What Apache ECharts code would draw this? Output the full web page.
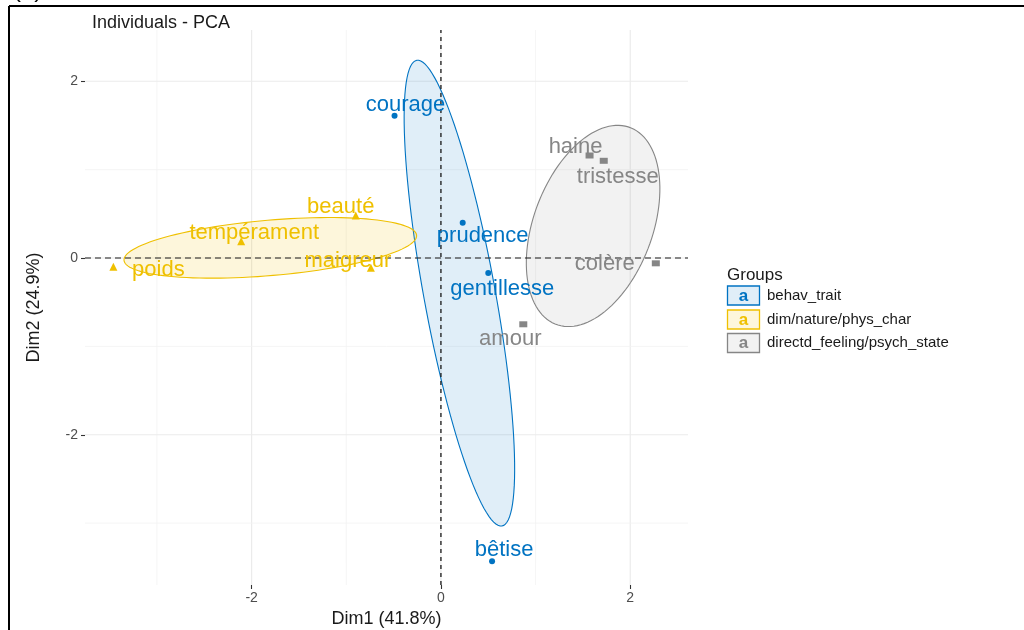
<!DOCTYPE html>
<html><head><meta charset="utf-8">
<script src="https://cdn.jsdelivr.net/npm/echarts@6/dist/echarts.min.js"></script>
<style>html,body{margin:0;padding:0;background:#fff}#c{width:1024px;height:630px}</style>
</head><body><div id="c"></div>
<script>
// ---- data ----
const groupNames = ['behav_trait', 'dim/nature/phys_char', 'directd_feeling/psych_state'];
const behavNames = ['courage', 'prudence', 'gentillesse', 'bêtise'];
const behavDim1 = [-0.49, 0.23, 0.50, 0.54];
const behavDim2 = [1.61, 0.40, -0.17, -3.43];
const physNames = ['beauté', 'tempérament', 'poids', 'maigreur'];
const physDim1 = [-0.90, -2.11, -3.46, -0.74];
const physDim2 = [0.48, 0.19, -0.10, -0.11];
const feelNames = ['haine', 'tristesse', 'colère', 'amour'];
const feelDim1 = [1.57, 1.72, 2.27, 0.87];
const feelDim2 = [1.16, 1.10, -0.06, -0.75];
const xTickLabels = [-2, 0, 2];
const yTickLabels = [-2, 0, 2];
const xGridValues = [-3, -2, -1, 0, 1, 2];
const yGridValues = [-3, -2, -1, 0, 1, 2];

// ---- layout / style ----
const X_MIN = -3.76, X_MAX = 2.61, Y_MIN = -3.7, Y_MAX = 2.58;
const FONT = 'Liberation Sans';
const colors = ['#0073C2', '#EFC000', '#868686'];
const fills = ['rgba(0,115,194,0.12)', 'rgba(239,192,0,0.14)', 'rgba(134,134,134,0.11)'];
const symbols = ['circle', 'triangle', 'rect'];
const symbolSizes = [6, 8, [8, 6]];
const labelOffsets = {
  'courage': [11, -11], 'prudence': [20, 13], 'gentillesse': [14, 16], 'bêtise': [12, -11],
  'beauté': [-15, -9], 'tempérament': [13, -8], 'poids': [45, 3], 'maigreur': [-23, -7],
  'haine': [-14, -9], 'tristesse': [14, 16], 'colère': [-51, 1], 'amour': [-13, 15]
};

const groups = [
  { names: behavNames, d1: behavDim1, d2: behavDim2 },
  { names: physNames, d1: physDim1, d2: physDim2 },
  { names: feelNames, d1: feelDim1, d2: feelDim2 }
];

// 95% confidence ellipse of the group mean (as in factoextra)
function confEllipse(xs, ys, nPts) {
  const n = xs.length;
  const mx = xs.reduce((a, b) => a + b, 0) / n;
  const my = ys.reduce((a, b) => a + b, 0) / n;
  let sxx = 0, syy = 0, sxy = 0;
  for (let i = 0; i < n; i++) {
    sxx += (xs[i] - mx) ** 2; syy += (ys[i] - my) ** 2; sxy += (xs[i] - mx) * (ys[i] - my);
  }
  sxx /= (n - 1); syy /= (n - 1); sxy /= (n - 1);
  const r = Math.sqrt(5.991464547107979 / n);
  const tr = sxx + syy, det = sxx * syy - sxy * sxy;
  const d = Math.sqrt(Math.max(tr * tr / 4 - det, 0));
  const l1 = tr / 2 + d, l2 = Math.max(tr / 2 - d, 0);
  const th = Math.atan2(l1 - sxx, sxy);
  const pts = [];
  for (let k = 0; k < nPts; k++) {
    const t = 2 * Math.PI * k / nPts;
    const u = Math.sqrt(l1) * r * Math.cos(t), v = Math.sqrt(l2) * r * Math.sin(t);
    pts.push([mx + u * Math.cos(th) - v * Math.sin(th), my + u * Math.sin(th) + v * Math.cos(th)]);
  }
  return { center: [mx, my], pts };
}

const series = [];
// grid lines
series.push({
  type: 'custom', silent: true, z: 0,
  data: xGridValues.map(v => [v, 0]),
  renderItem: (p, api) => {
    const v = api.value(0);
    const a = api.coord([v, Y_MIN]), b = api.coord([v, Y_MAX]);
    const major = v % 2 === 0;
    return { type: 'line', shape: { x1: a[0], y1: a[1], x2: b[0], y2: b[1] },
      style: { stroke: major ? '#EBEBEB' : '#F2F2F2', lineWidth: major ? 1.2 : 0.8 } };
  }
});
series.push({
  type: 'custom', silent: true, z: 0,
  data: yGridValues.map(v => [0, v]),
  renderItem: (p, api) => {
    const v = api.value(1);
    const a = api.coord([X_MIN, v]), b = api.coord([X_MAX, v]);
    const major = v % 2 === 0;
    return { type: 'line', shape: { x1: a[0], y1: a[1], x2: b[0], y2: b[1] },
      style: { stroke: major ? '#EBEBEB' : '#F2F2F2', lineWidth: major ? 1.2 : 0.8 } };
  }
});
// ellipses
groups.forEach((g, gi) => {
  const ell = confEllipse(g.d1, g.d2, 120);
  series.push({
    type: 'custom', silent: true, z: 1, name: groupNames[gi],
    data: [ell.center],
    renderItem: (p, api) => ({
      type: 'polygon',
      shape: { points: ell.pts.map(q => api.coord(q)) },
      style: { fill: fills[gi], stroke: colors[gi], lineWidth: 1.1 }
    })
  });
});
// zero reference lines
series.push({
  type: 'custom', silent: true, z: 2,
  data: [[0, 0]],
  renderItem: (p, api) => {
    const a = api.coord([0, Y_MIN]), b = api.coord([0, Y_MAX]);
    const c = api.coord([X_MIN, 0]), d = api.coord([X_MAX, 0]);
    return { type: 'group', children: [
      { type: 'line', shape: { x1: a[0], y1: a[1], x2: b[0], y2: b[1] },
        style: { stroke: '#1A1A1A', lineWidth: 1.3, lineDash: [4, 4] } },
      { type: 'line', shape: { x1: c[0], y1: c[1], x2: d[0], y2: d[1] },
        style: { stroke: '#1A1A1A', lineWidth: 1.2, lineDash: [6, 4] } }
    ] };
  }
});
// points + labels
groups.forEach((g, gi) => {
  series.push({
    type: 'scatter', name: groupNames[gi], z: 3,
    symbol: symbols[gi], symbolSize: symbolSizes[gi],
    itemStyle: { color: colors[gi], opacity: 1 },
    emphasis: { disabled: true },
    label: { show: true, position: 'inside', formatter: '{b}', color: colors[gi],
      fontSize: 22, fontFamily: FONT, textBorderWidth: 0, opacity: 1 },
    data: g.names.map((nm, i) => ({ name: nm, value: [g.d1[i], g.d2[i]],
      label: { offset: labelOffsets[nm] } }))
  });
});

// legend drawn as graphic
const legendEls = [
  { type: 'text', x: 727, y: 275, style: { text: 'Groups', fontSize: 17, fontFamily: FONT, fill: '#1A1A1A', verticalAlign: 'middle' } }
];
const keyY = [286, 310, 333.5];
groupNames.forEach((nm, i) => {
  legendEls.push({ type: 'rect', shape: { x: 727.5, y: keyY[i], width: 32, height: 19 },
    style: { fill: fills[i], stroke: colors[i], lineWidth: 1.3 } });
  legendEls.push({ type: 'text', x: 743.5, y: keyY[i] + 10, style: { text: 'a', fontSize: 17, fontWeight: 'bold',
    fontFamily: FONT, fill: colors[i], align: 'center', verticalAlign: 'middle' } });
  legendEls.push({ type: 'text', x: 767, y: keyY[i] + 9.5, style: { text: nm, fontSize: 15,
    fontFamily: FONT, fill: '#1A1A1A', verticalAlign: 'middle' } });
});

const chart = echarts.init(document.getElementById('c'));
chart.setOption({
  animation: false,
  backgroundColor: '#fff',
  title: { text: 'Individuals - PCA', left: 87, top: 9,
    textStyle: { fontSize: 18, fontWeight: 'normal', color: '#1A1A1A', fontFamily: FONT } },
  grid: { left: 85, right: 336, top: 30, bottom: 45, containLabel: false, outerBoundsMode: 'none' },
  xAxis: {
    type: 'value', min: X_MIN, max: X_MAX,
    splitLine: { show: false },
    axisLine: { show: false, onZero: false },
    axisTick: { show: true, length: 4, customValues: xTickLabels, lineStyle: { color: '#333', width: 1.1 } },
    axisLabel: { customValues: xTickLabels, color: '#4D4D4D', fontSize: 14, margin: 6, fontFamily: FONT },
    name: 'Dim1 (41.8%)', nameLocation: 'middle', nameGap: 23,
    nameTextStyle: { fontSize: 18, color: '#1A1A1A', fontFamily: FONT }
  },
  yAxis: {
    type: 'value', min: Y_MIN, max: Y_MAX,
    splitLine: { show: false },
    axisLine: { show: false, onZero: false },
    axisTick: { show: true, length: 4, customValues: yTickLabels, lineStyle: { color: '#333', width: 1.1 } },
    axisLabel: { customValues: yTickLabels, color: '#4D4D4D', fontSize: 14, margin: 7, fontFamily: FONT },
    name: 'Dim2 (24.9%)', nameLocation: 'middle', nameGap: 42, nameRotate: 90,
    nameTextStyle: { fontSize: 18, color: '#1A1A1A', fontFamily: FONT }
  },
  graphic: [
    { type: 'line', shape: { x1: 9, y1: 6, x2: 1024, y2: 6 }, style: { stroke: '#000', lineWidth: 2 } },
    { type: 'line', shape: { x1: 9, y1: 6, x2: 9, y2: 630 }, style: { stroke: '#000', lineWidth: 2 } },
    { type: 'text', x: 13, y: -10, style: { text: '(a)', fontSize: 24, fontFamily: FONT, fill: '#000', verticalAlign: 'middle' } }
  ].concat(legendEls),
  series: series
});
</script>
</body></html>
